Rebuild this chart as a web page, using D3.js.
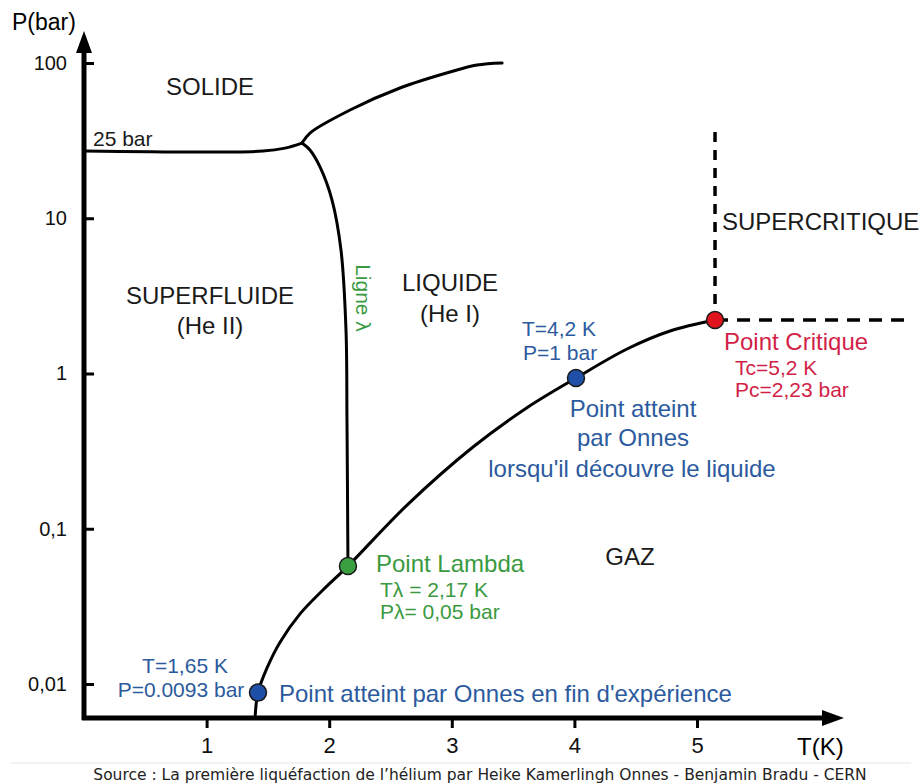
<!DOCTYPE html>
<html>
<head>
<meta charset="utf-8">
<script src="https://cdn.jsdelivr.net/npm/d3@7"></script>
<style>
  body { margin: 0; background: #fff; }
  svg { display: block; font-family: "Liberation Sans", Arial, sans-serif; }
</style>
</head>
<body>
<svg width="921" height="784"></svg>
<script>
// axes
var tTicks = [1, 2, 3, 4, 5];
var pTicks = [100, 10, 1, 0.1, 0.01];
var pTickLabels = ['100', '10', '1', '0,1', '0,01'];

// courbe de vaporisation (T en K, P en bar)
var vaporT = [1.395, 1.419, 1.493, 1.599, 1.762, 1.949, 2.153, 2.635, 3.173, 3.613, 4.013, 4.429, 4.78, 5.147];
var vaporP = [0.0060, 0.0088, 0.0127, 0.0186, 0.0283, 0.0403, 0.0575, 0.142, 0.336, 0.602, 0.935, 1.438, 1.878, 2.21];

// courbe de fusion : palier 25 bar puis branche haute
var meltLowT = [0, 1.46, 1.64, 1.778];
var meltLowP = [27.1, 27.1, 28.3, 30.5];
var meltHighT = [1.778, 1.843, 2.17, 2.577, 2.985, 3.206, 3.41];
var meltHighP = [30.5, 35.4, 49.8, 69, 87.5, 97, 100];

// ligne lambda
var lambdaT = [1.778, 1.843, 1.925, 2.023, 2.096, 2.137, 2.145, 2.153];
var lambdaP = [30.5, 27.5, 21.4, 13.1, 6.25, 1.905, 0.502, 0.0575];

// points remarquables
var pointNames = ['fin', 'lambda', 'onnes', 'critique'];
var pointT = [1.419, 2.153, 4.013, 5.147];
var pointP = [0.0088, 0.0575, 0.935, 2.21];

// limites du domaine supercritique
var superTopP = 36;
var superRightT = 6.76;

var svg = d3.select('svg');

var x = d3.scaleLinear().domain([0, 5]).range([84, 697]);
var y = d3.scaleLog().domain([0.01, 100]).range([684, 63]);
var axisY = 718, axisX = 84;

var blue = '#2c5a9e', red = '#d21f48', green = '#3a9a3f';
var dotFill = { fin: '#1f4fa6', lambda: '#3aa042', onnes: '#1f4fa6', critique: '#e0141f' };

function pts(ts, ps) {
  return ts.map(function(t, i) { return [x(t), y(ps[i])]; });
}

var curve = d3.line().curve(d3.curveCatmullRom.alpha(0.5));

// axes
var xAxis = d3.axisBottom(x).tickValues(tTicks).tickSize(10).tickPadding(9)
  .tickFormat(d3.format('d'));
var gx = svg.append('g').attr('transform', 'translate(0,' + axisY + ')').call(xAxis);
gx.select('.domain').remove();
gx.selectAll('line').attr('stroke', '#000').attr('stroke-width', 3);
gx.selectAll('text').attr('font-size', 22).attr('fill', '#111')
  .attr('font-family', '"Liberation Sans", Arial, sans-serif');

var yAxis = d3.axisLeft(y).tickValues(pTicks).tickSize(-10).tickPadding(17)
  .tickFormat(function(d, i) { return pTickLabels[i]; });
var gy = svg.append('g').attr('transform', 'translate(' + axisX + ',0)').call(yAxis);
gy.select('.domain').remove();
gy.selectAll('line').attr('stroke', '#000').attr('stroke-width', 3);
gy.selectAll('text').attr('font-size', 20).attr('fill', '#111')
  .attr('font-family', '"Liberation Sans", Arial, sans-serif');

svg.append('path')
  .attr('d', 'M' + axisX + ',' + (axisY + 2) + 'V48M' + (axisX - 2) + ',' + axisY + 'H826')
  .attr('stroke', '#000').attr('stroke-width', 5).attr('fill', 'none');
svg.append('path')
  .attr('d', 'M' + axisX + ',31L' + (axisX - 8) + ',53L' + (axisX + 8) + ',53Z')
  .attr('fill', '#000');
svg.append('path')
  .attr('d', 'M844,' + axisY + 'L822,' + (axisY - 8) + 'L822,' + (axisY + 8) + 'Z')
  .attr('fill', '#000');

svg.append('text').attr('x', 12).attr('y', 30).attr('font-size', 23).text('P(bar)');
svg.append('text').attr('x', 797).attr('y', 755).attr('font-size', 24).text('T(K)');

// domaine supercritique
svg.append('path')
  .attr('d', curve([[x(pointT[3]), y(superTopP)], [x(pointT[3]), y(pointP[3])]]))
  .attr('stroke', '#000').attr('stroke-width', 3.5).attr('stroke-dasharray', '10,8').attr('fill', 'none');
svg.append('path')
  .attr('d', curve([[x(pointT[3]), y(pointP[3])], [x(superRightT), y(pointP[3])]]))
  .attr('stroke', '#000').attr('stroke-width', 3.5).attr('stroke-dasharray', '13,9').attr('fill', 'none');

// courbes
[[meltLowT, meltLowP], [meltHighT, meltHighP], [lambdaT, lambdaP], [vaporT, vaporP]].forEach(function(c) {
  svg.append('path')
    .attr('d', curve(pts(c[0], c[1])))
    .attr('stroke', '#000').attr('stroke-width', 3)
    .attr('stroke-linecap', 'round').attr('fill', 'none');
});

// points
svg.selectAll('circle.pt')
  .data(pointNames)
  .enter().append('circle')
  .attr('class', 'pt')
  .attr('cx', function(d, i) { return x(pointT[i]); })
  .attr('cy', function(d, i) { return y(pointP[i]); })
  .attr('r', 8.5)
  .attr('fill', function(d) { return dotFill[d]; })
  .attr('stroke', '#1a1a1a').attr('stroke-width', 1.5);

// textes
function label(tx, ty, s, opts) {
  opts = opts || {};
  return svg.append('text')
    .attr('x', tx).attr('y', ty)
    .attr('font-size', opts.size || 24)
    .attr('fill', opts.color || '#1a1a1a')
    .attr('text-anchor', opts.anchor || 'start')
    .text(s);
}

label(210, 95, 'SOLIDE', { anchor: 'middle' });
label(93, 146, '25 bar', { size: 21 });
label(210, 304, 'SUPERFLUIDE', { anchor: 'middle' });
label(210, 334, '(He II)', { anchor: 'middle' });
label(450, 291, 'LIQUIDE', { anchor: 'middle' });
label(450, 322, '(He I)', { anchor: 'middle' });
label(722, 230, 'SUPERCRITIQUE');
label(630, 565, 'GAZ', { anchor: 'middle' });

svg.append('text')
  .attr('transform', 'translate(363,298) rotate(90)')
  .attr('text-anchor', 'middle').attr('dy', '0.35em')
  .attr('font-size', 21).attr('fill', green)
  .text('Ligne \u03bb');

label(376, 572, 'Point Lambda', { color: green });
label(380, 597, 'T\u03bb  = 2,17 K', { color: green, size: 21 });
label(380, 619, 'P\u03bb= 0,05 bar', { color: green, size: 21 });

label(185, 673, 'T=1,65 K', { color: blue, size: 21, anchor: 'middle' });
label(181, 697, 'P=0.0093 bar', { color: blue, size: 21, anchor: 'middle' });
label(279, 702, 'Point atteint par Onnes en fin d\'exp\u00e9rience', { color: blue });

label(522, 336, 'T=4,2 K', { color: blue, size: 21 });
label(523, 360, 'P=1 bar', { color: blue, size: 21 });
label(633, 417, 'Point atteint', { color: blue, anchor: 'middle' });
label(633, 446, 'par Onnes', { color: blue, anchor: 'middle' });
label(632, 477, 'lorsqu\'il d\u00e9couvre le liquide', { color: blue, anchor: 'middle' });

label(724, 350, 'Point Critique', { color: red });
label(735, 375, 'Tc=5,2 K', { color: red, size: 21 });
label(735, 397, 'Pc=2,23 bar', { color: red, size: 21 });

// source
svg.append('line')
  .attr('x1', 10).attr('x2', 911).attr('y1', 763).attr('y2', 763)
  .attr('stroke', '#e6e6e6').attr('stroke-width', 1);
svg.append('text')
  .attr('x', 480).attr('y', 780).attr('text-anchor', 'middle')
  .attr('font-family', '"DejaVu Sans", Verdana, sans-serif')
  .attr('font-size', 15.5).attr('fill', '#222')
  .text('Source : La premi\u00e8re liqu\u00e9faction de l\u2019h\u00e9lium par Heike Kamerlingh Onnes - Benjamin Bradu - CERN');
</script>
</body>
</html>
